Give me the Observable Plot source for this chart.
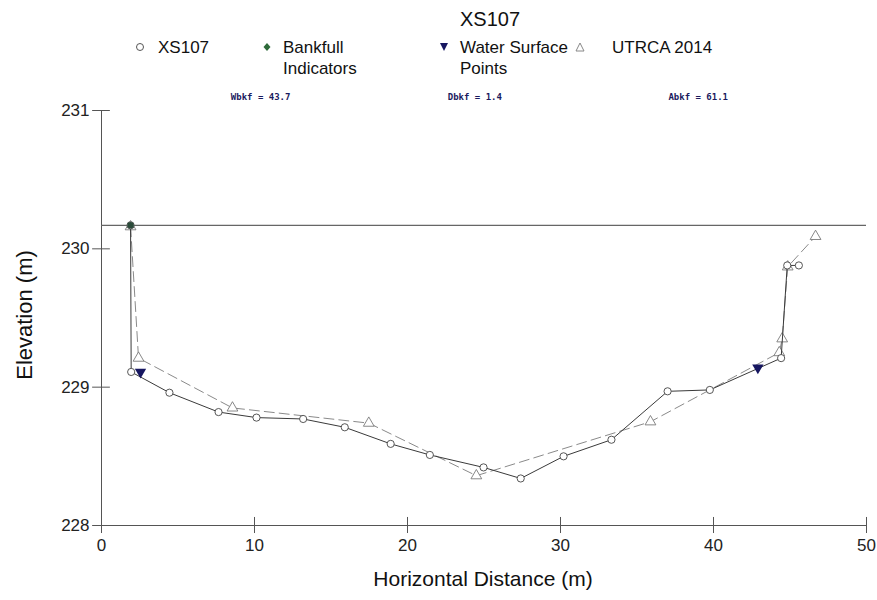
<!DOCTYPE html>
<html><head><meta charset="utf-8">
<script src="https://cdn.jsdelivr.net/npm/d3@7"></script>
<script src="https://cdn.jsdelivr.net/npm/@observablehq/plot@0.6"></script>
<style>
 body{margin:0;background:#fff;}
 #wrap{position:relative;width:877px;height:600px;font-family:Arial,"Liberation Sans",sans-serif;color:#111;}
 #title{position:absolute;top:8px;left:0;width:980px;text-align:center;font-size:20px;}
 .leg{position:absolute;top:37px;font-size:17px;line-height:21px;}
 .leg svg{position:absolute;top:4px;}
 #chart{position:absolute;top:80px;left:0;}
 #xlab{position:absolute;top:567px;left:0;width:966px;text-align:center;font-size:21px;}
 #ylab{position:absolute;left:25px;top:315px;font-size:22px;white-space:nowrap;transform:translate(-50%,-50%) rotate(-90deg);}
</style></head>
<body>
<div id="wrap">
 <div id="title">XS107</div>
 <div class="leg" style="left:158px"><svg width="12" height="12" style="left:-24px"><circle cx="6" cy="6" r="3.5" fill="none" stroke="#555"/></svg>XS107</div>
 <div class="leg" style="left:283px"><svg width="12" height="12" style="left:-22px"><path d="M6 2L9.5 6L6 10L2.5 6Z" fill="#2e6b3a"/></svg>Bankfull<br>Indicators</div>
 <div class="leg" style="left:460px"><svg width="12" height="12" style="left:-22px"><path d="M2 2L10 2L6 10Z" fill="#161660"/></svg>Water Surface<br>Points</div>
 <div class="leg" style="left:612px"><svg width="12" height="12" style="left:-38px"><path d="M6 2L10 10L2 10Z" fill="none" stroke="#888"/></svg>UTRCA 2014</div>
 <div id="chart"></div>
 <div id="xlab">Horizontal Distance (m)</div>
 <div id="ylab">Elevation (m)</div>
</div>
<script>
// XS107 survey
const xsX = [1.9, 1.94, 4.44, 7.65, 10.13, 13.18, 15.9, 18.9, 21.46, 24.97, 27.4, 30.2, 33.33, 37.0, 39.76, 44.42, 44.82, 45.58];
const xsY = [230.17, 229.11, 228.96, 228.82, 228.78, 228.77, 228.71, 228.59, 228.51, 228.42, 228.34, 228.50, 228.62, 228.97, 228.98, 229.21, 229.88, 229.88];
// UTRCA 2014
const utX = [1.9, 2.42, 8.56, 17.47, 24.5, 35.88, 44.3, 44.49, 44.85, 46.67];
const utY = [230.16, 229.21, 228.85, 228.74, 228.36, 228.75, 229.25, 229.35, 229.87, 230.09];
// Water surface points
const wsX = [2.55, 42.9];
const wsY = [229.11, 229.14];
// Bankfull indicators
const bfX = [1.9];
const bfY = [230.17];
const bankfullElev = 230.17;
// annotations
const annText = ["Wbkf = 43.7", "Dbkf = 1.4", "Abkf = 61.1"];
const annX = [10.4, 24.4, 39.0];
// ticks
const xTicks = [0, 10, 20, 30, 40, 50];
const yTicks = [228, 229, 230, 231];

const xs = xsX.map((x, i) => ({x, y: xsY[i]}));
const ut = utX.map((x, i) => ({x, y: utY[i]}));
const ws = wsX.map((x, i) => ({x, y: wsY[i]}));
const bf = bfX.map((x, i) => ({x, y: bfY[i]}));
const ann = annText.map((t, i) => ({t, x: annX[i]}));

const axisColor = "#555";
const chart = Plot.plot({
  width: 877,
  height: 520,
  marginLeft: 101,
  marginRight: 11,
  marginTop: 30,
  marginBottom: 75,
  style: {fontFamily: "Arial, 'Liberation Sans', sans-serif", fontSize: "17px", color: "#222", background: "transparent"},
  x: {domain: [0, 50]},
  y: {domain: [228, 231]},
  marks: [
    Plot.ruleY([228], {stroke: axisColor}),
    Plot.ruleX([0], {stroke: axisColor}),
    Plot.ruleX(xTicks, {x: d => d, y1: 228 - 0.058, y2: 228 + 0.058, stroke: axisColor}),
    Plot.ruleY(yTicks, {y: d => d, x1: -0.58, x2: 0.58, stroke: axisColor}),
    Plot.axisX({ticks: xTicks, tickSize: 0, tickPadding: 13, tickFormat: "d", label: null}),
    Plot.axisY({ticks: yTicks, tickSize: 0, tickPadding: 12, tickFormat: "d", label: null}),
    Plot.ruleY([bankfullElev], {stroke: "#666", strokeWidth: 1.2}),
    Plot.line(ut, {x: "x", y: "y", stroke: "#8a8a8a", strokeWidth: 1, strokeDasharray: "10,5"}),
    Plot.dot(ut, {x: "x", y: "y", symbol: "triangle", r: 4, stroke: "#7a7a7a", fill: "white", strokeWidth: 0.9}),
    Plot.line(xs, {x: "x", y: "y", stroke: "#3a3a3a", strokeWidth: 1}),
    Plot.dot(xs, {x: "x", y: "y", symbol: "circle", r: 3.6, stroke: "#444", fill: "white", strokeWidth: 0.9}),
    Plot.dot(ws, {x: "x", y: "y", symbol: "triangle", rotate: 180, r: 4.2, fill: "#161660", stroke: "none"}),
    Plot.dot(bf, {x: "x", y: "y", symbol: "circle", r: 3.3, fill: "#2b4a3a", stroke: "none"}),
    Plot.text(ann, {x: "x", y: () => 231, text: "t", dy: -13, fill: "#1a1a5e", fontFamily: "'DejaVu Sans Mono', monospace", fontSize: 9, fontWeight: "bold"})
  ]
});
document.getElementById("chart").appendChild(chart);
</script>
</body></html>
